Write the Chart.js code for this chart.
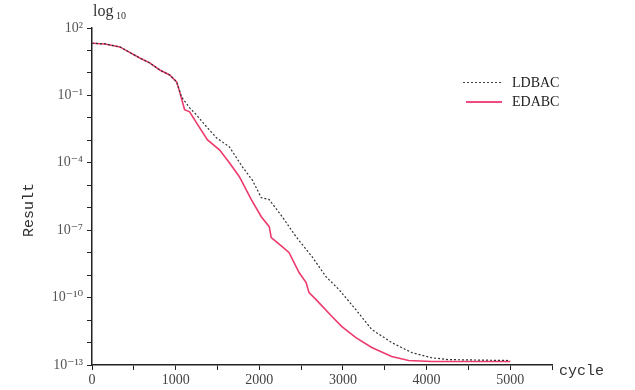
<!DOCTYPE html>
<html>
<head>
<meta charset="utf-8">
<script src="https://cdn.jsdelivr.net/npm/chart.js@4"></script>
<style>
  html, body { margin: 0; padding: 0; background: #fff; }
  #wrap { width: 635px; height: 390px; position: relative; }
</style>
</head>
<body>
<div id="wrap"><canvas id="resultChart"></canvas></div>
<script>
// Result vs cycle (log scale)
const ldbacCycles = [0, 155, 333, 571, 690, 810, 929, 1012, 1071, 1167, 1250, 1369, 1488, 1643, 1798, 1917, 2024, 2119, 2274, 2440, 2631, 2798, 2952, 3155, 3345, 3583, 3821, 4060, 4262, 5000];
const ldbacValues = [21, 19.5, 14.4, 4.6, 2.8, 1.35, 0.81, 0.4, 0.085, 0.028, 0.0135, 4e-3, 1.3e-3, 5.1e-4, 6.6e-5, 1.7e-5, 2.8e-6, 2.3e-6, 4e-7, 5.1e-8, 6.6e-9, 8.5e-10, 2.3e-10, 2.9e-11, 3.8e-12, 1e-12, 3.6e-13, 2.1e-13, 1.74e-13, 1.58e-13];

const edabcCycles = [0, 155, 333, 571, 690, 810, 929, 1012, 1048, 1107, 1167, 1250, 1381, 1524, 1643, 1762, 1905, 2024, 2119, 2143, 2274, 2357, 2476, 2560, 2595, 2679, 2869, 2988, 3155, 3345, 3583, 3786, 4060, 5000];
const edabcValues = [21, 19.5, 14.4, 4.6, 2.8, 1.35, 0.81, 0.4, 0.144, 0.023, 0.0186, 6e-3, 1.05e-3, 3.8e-4, 1e-4, 2.4e-5, 2.3e-6, 4e-7, 1.44e-7, 4.7e-8, 1.85e-8, 1e-8, 1.3e-9, 4.7e-10, 1.66e-10, 8.1e-11, 1.44e-11, 5.1e-12, 1.66e-12, 6e-13, 2.4e-13, 1.58e-13, 1.44e-13, 1.44e-13];

const yExponents = [2, 1, 0, -1, -2, -3, -4, -5, -6, -7, -8, -9, -10, -11, -12, -13];
const yLabelExponents = [2, -1, -4, -7, -10, -13];
const xTicks = [0, 500, 1000, 1500, 2000, 2500, 3000, 3500, 4000, 4500, 5000, 5500];
const xLabels = [0, 1000, 2000, 3000, 4000, 5000];

const seriesNames = ['LDBAC', 'EDABC'];
const SERIF = '"Liberation Serif", "DejaVu Serif", serif';

function toPoints(xs, ys) {
    return xs.map((x, i) => ({ x: x, y: ys[i] }));
}

function supNum(n) {
    const map = { '-': '\u207B', '0': '\u2070', '1': '\u00B9', '2': '\u00B2', '3': '\u00B3', '4': '\u2074', '5': '\u2075', '6': '\u2076', '7': '\u2077', '8': '\u2078', '9': '\u2079' };
    return String(n).split('').map(c => map[c]).join('');
}

// axis captions + legend drawn on the canvas
const decorPlugin = {
    id: 'decor',
    afterDraw(chart) {
        const ctx = chart.ctx;
        const area = chart.chartArea;
        ctx.save();
        ctx.fillStyle = '#333';
        ctx.textBaseline = 'alphabetic';

        // log10 above the y axis
        ctx.font = '16px ' + SERIF;
        ctx.textAlign = 'left';
        ctx.fillText('log', area.left + 1, 16);
        ctx.font = '10px ' + SERIF;
        ctx.fillText('10', area.left + 24, 19);

        // Result (rotated)
        ctx.save();
        ctx.translate(33, 210);
        ctx.rotate(-Math.PI / 2);
        ctx.textAlign = 'center';
        ctx.font = '15px "Liberation Mono", monospace';
        ctx.fillText('Result', 0, 0);
        ctx.restore();

        // cycle after the x axis
        ctx.font = '15px "Liberation Mono", monospace';
        ctx.textAlign = 'left';
        ctx.fillText('cycle', area.right + 7, area.bottom + 10);

        // legend
        ctx.font = '14px ' + SERIF;
        ctx.fillStyle = '#222';
        ctx.fillText(seriesNames[0], 512, 87);
        ctx.fillText(seriesNames[1], 512, 106);
        ctx.lineWidth = 1;
        ctx.strokeStyle = '#444';
        ctx.setLineDash([2, 2]);
        ctx.beginPath();
        ctx.moveTo(463, 82.5);
        ctx.lineTo(502, 82.5);
        ctx.stroke();
        ctx.setLineDash([]);
        ctx.lineWidth = 2;
        ctx.strokeStyle = '#f04a7e';
        ctx.beginPath();
        ctx.moveTo(466, 102);
        ctx.lineTo(502, 102);
        ctx.stroke();
        ctx.restore();
    }
};

new Chart(document.getElementById('resultChart'), {
    type: 'line',
    data: {
        datasets: [
            {
                label: seriesNames[0],
                data: toPoints(ldbacCycles, ldbacValues),
                borderColor: '#333',
                borderWidth: 1.2,
                borderDash: [2, 2],
                pointRadius: 0,
                tension: 0,
                fill: false
            },
            {
                label: seriesNames[1],
                data: toPoints(edabcCycles, edabcValues),
                borderColor: '#ec3a6c',
                borderWidth: 1.6,
                pointRadius: 0,
                tension: 0,
                fill: false
            }
        ]
    },
    options: {
        responsive: true,
        maintainAspectRatio: false,
        animation: false,
        layout: { padding: { left: 0, top: 28, right: 83, bottom: 0 } },
        plugins: {
            legend: { display: false },
            tooltip: { enabled: false }
        },
        scales: {
            x: {
                type: 'linear',
                min: 0,
                max: 5500,
                afterBuildTicks: scale => { scale.ticks = xTicks.map(v => ({ value: v })); },
                afterFit: scale => { scale.height = 25; },
                grid: { drawOnChartArea: false, drawTicks: true, tickLength: 5, color: '#222' },
                border: { display: true, color: '#222', width: 1.5 },
                ticks: {
                    autoSkip: false,
                    maxRotation: 0,
                    padding: 2,
                    color: '#444',
                    font: { family: SERIF, size: 14 },
                    callback: v => xLabels.includes(v) ? String(v) : ''
                }
            },
            y: {
                type: 'logarithmic',
                min: 1e-13,
                max: 1e2,
                afterBuildTicks: scale => { scale.ticks = yExponents.map(e => ({ value: Math.pow(10, e) })); },
                afterFit: scale => { scale.width = 92; },
                grid: { drawOnChartArea: false, drawTicks: true, tickLength: 5, color: '#222' },
                border: { display: true, color: '#222', width: 1.5 },
                ticks: {
                    autoSkip: false,
                    padding: 4,
                    color: '#555',
                    font: { family: SERIF, size: 14 },
                    callback: v => {
                        const e = Math.round(Math.log10(v));
                        return yLabelExponents.includes(e) ? '10' + supNum(e) : '';
                    }
                }
            }
        }
    },
    plugins: [decorPlugin]
});
</script>
</body>
</html>
